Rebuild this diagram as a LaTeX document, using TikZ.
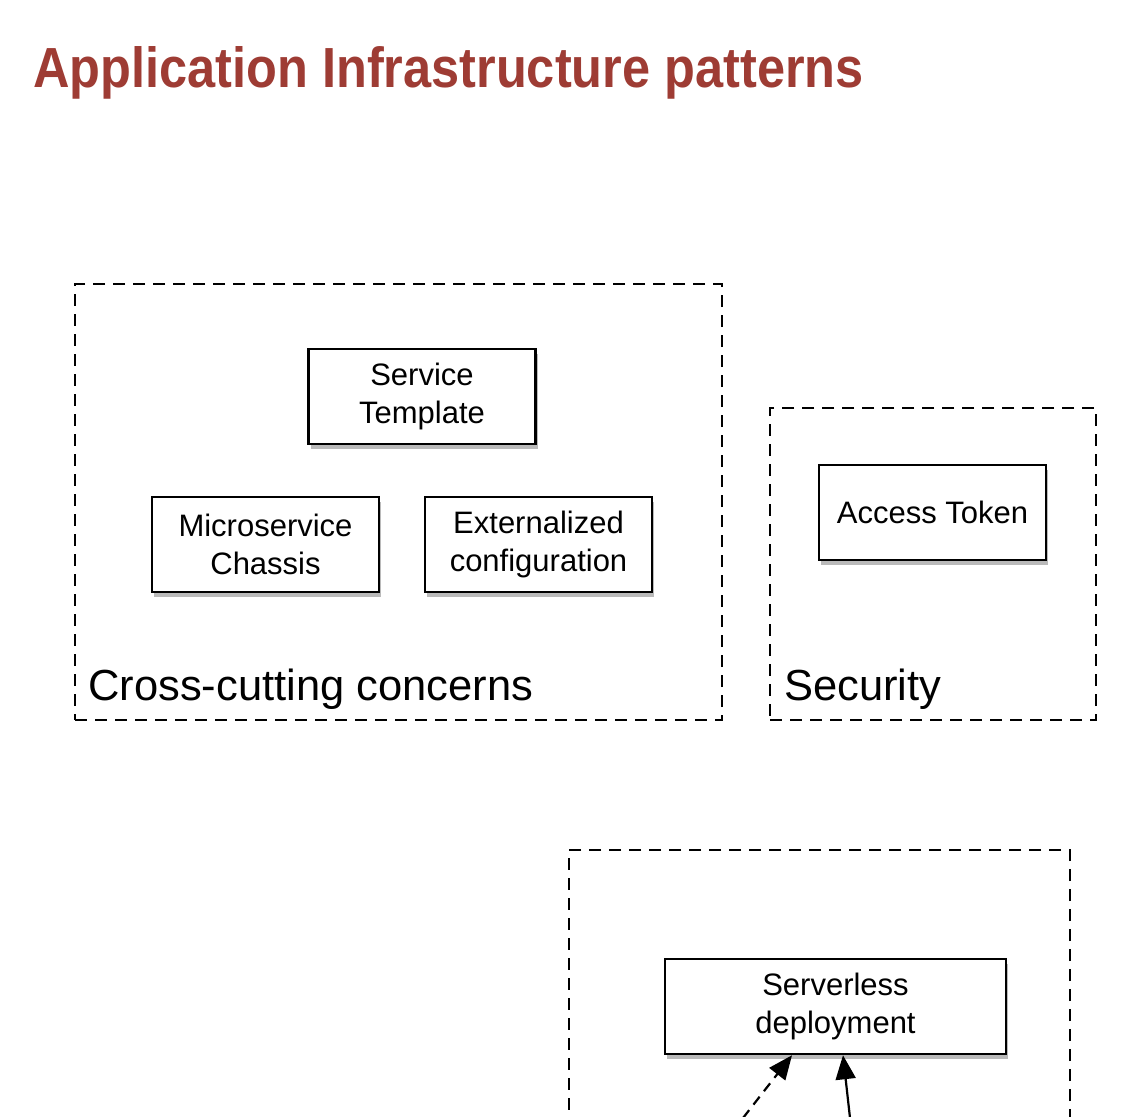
\documentclass[tikz,border=0pt]{standalone}
\usepackage{fontspec}
\setmainfont{Liberation Sans}
\usetikzlibrary{shapes,arrows.meta,shadows}
\definecolor{titlered}{RGB}{158,60,52}
\tikzstyle{pattern} = [rectangle, draw=black, fill=white, line width=2.5pt, align=center,
minimum width=227pt, minimum height=95pt, inner sep=0.5ex,
font=\fontsize{31}{38}\selectfont,
drop shadow={shadow xshift=2pt, shadow yshift=-5pt, fill=black!60, opacity=0.45}]
\tikzstyle{group} = [rectangle, draw=black, line width=2.2pt, dash pattern=on 12pt off 8pt]
\tikzstyle{grouplabel} = [anchor=base west, inner sep=0pt, font=\fontsize{43.5}{52}\selectfont]
\tikzstyle{arrow} = [line width=2.2pt, -{Triangle[length=24pt, width=20pt]}]

\begin{document}
\begin{tikzpicture}[x=1pt, y=-1pt]
                        \useasboundingbox (0,0) rectangle (1148,1116);
                        \clip (0,0) rectangle (1148,1116);
                        \node[anchor=base west, inner sep=0pt, text=titlered,
                            font=\bfseries\fontsize{50.5}{60}\selectfont]
                            (title) at (33,88) {\scalebox{1}[1.12]{Application Infrastructure patterns}};
                        % groups
                        \node[group, minimum width=647pt, minimum height=436pt] (cross) at (398.5,502) {};
                        \node[grouplabel] (crosslabel) at (88,700) {Cross-cutting concerns};
                        \node[group, minimum width=326pt, minimum height=312pt] (security) at (933,564) {};
                        \node[grouplabel] (securitylabel) at (784,700) {Security};
                        \node[group, minimum width=501pt, minimum height=450pt] (deploy) at (819.5,1075) {};
                        % patterns
                        \node[pattern] (template) at (422,396.5) {Service \\ Template};
                        \node[pattern] (chassis) at (265.5,544.5) {Microservice \\ Chassis};
                        \node[pattern] (config) at (538.5,544.5) {Externalized \\ configuration};
                        \node[pattern] (token) at (932.5,512.5) {Access Token};
                        \node[pattern, minimum width=341pt] (serverless) at (835.5,1006.5) {Serverless \\ deployment};
                        % arrows from below
                        \coordinate (from1) at (743,1118);
                        \coordinate (from2) at (850,1118);
                        \draw[arrow, dash pattern=on 10pt off 7pt] (from1) -- (serverless.south -| 792,0);
                        \draw[arrow] (from2) -- (serverless.south -| 843,0);
                    \end{tikzpicture}
\end{document}
